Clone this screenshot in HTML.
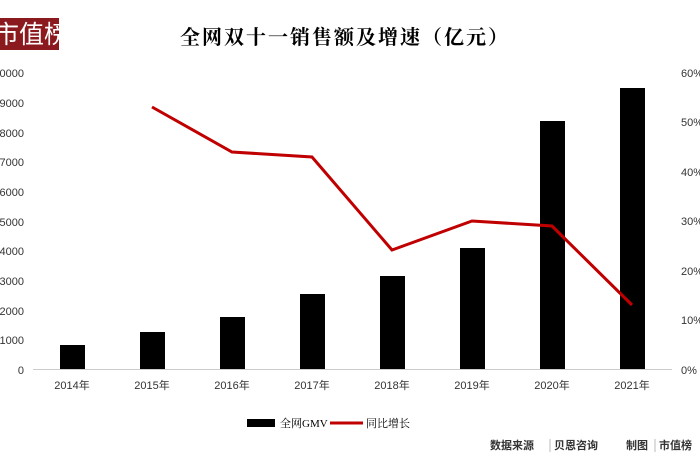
<!DOCTYPE html><html><head><meta charset="utf-8"><style>
body{margin:0;background:#fff;}
svg text{font-family:"Liberation Sans","Noto Sans CJK SC",sans-serif;}
</style></head><body>
<svg width="700" height="470" xmlns="http://www.w3.org/2000/svg">
<rect x="0" y="18" width="59" height="32" fill="#8b1a1e"/>
<text x="-6" y="43" font-size="25" fill="#fff" style="font-family:'Noto Sans CJK SC',sans-serif">市值榜</text>
<text x="345" y="44" font-size="20" font-weight="bold" text-anchor="middle" letter-spacing="2" style="font-family:'Noto Serif CJK SC',serif">全网双十一销售额及增速（亿元）</text>
<g font-size="11" fill="#333" text-anchor="end">
<text x="24" y="374">0</text><text x="24" y="344">1000</text><text x="24" y="315">2000</text><text x="24" y="285">3000</text><text x="24" y="255">4000</text><text x="24" y="226">5000</text><text x="24" y="196">6000</text><text x="24" y="166">7000</text><text x="24" y="137">8000</text><text x="24" y="107">9000</text><text x="24" y="77">10000</text>
</g>
<g font-size="11" fill="#333" text-anchor="start">
<text x="681" y="374">0%</text><text x="681" y="324">10%</text><text x="681" y="275">20%</text><text x="681" y="225">30%</text><text x="681" y="176">40%</text><text x="681" y="126">50%</text><text x="681" y="77">60%</text>
</g>
<line x1="33" y1="369.5" x2="672" y2="369.5" stroke="#ccc" stroke-width="1"/>
<g fill="#000">
<rect x="60" y="345" width="25" height="24"/>
<rect x="140" y="332" width="25" height="37"/>
<rect x="220" y="317" width="25" height="52"/>
<rect x="300" y="294" width="25" height="75"/>
<rect x="380" y="276" width="25" height="93"/>
<rect x="460" y="248" width="25" height="121"/>
<rect x="540" y="121" width="25" height="248"/>
<rect x="620" y="88" width="25" height="281"/>
</g>
<polyline points="152,107 232,152 312,157 392,250 472,221 552,226 632,305" fill="none" stroke="#c00000" stroke-width="3"/>
<g font-size="11" fill="#333" text-anchor="middle" style="font-family:'Liberation Serif','Noto Serif CJK SC',serif">
<text x="72" y="389">2014年</text><text x="152" y="389">2015年</text><text x="232" y="389">2016年</text><text x="312" y="389">2017年</text><text x="392" y="389">2018年</text><text x="472" y="389">2019年</text><text x="552" y="389">2020年</text><text x="632" y="389">2021年</text>
</g>
<rect x="247" y="419" width="28" height="8" fill="#000"/>
<text x="280" y="427" font-size="11" style="font-family:'Liberation Serif','Noto Serif CJK SC',serif">全网GMV</text>
<line x1="330" y1="423" x2="363" y2="423" stroke="#c00000" stroke-width="3"/>
<text x="366" y="427" font-size="11" style="font-family:'Liberation Serif','Noto Serif CJK SC',serif">同比增长</text>
<text x="490" y="449" font-size="11" font-weight="bold" fill="#333">数据来源</text>
<line x1="550" y1="439" x2="550" y2="452" stroke="#bbb"/>
<text x="554" y="449" font-size="11" font-weight="bold" fill="#333">贝恩咨询</text>
<text x="626" y="449" font-size="11" font-weight="bold" fill="#333">制图</text>
<line x1="655" y1="439" x2="655" y2="452" stroke="#bbb"/>
<text x="659" y="449" font-size="11" font-weight="bold" fill="#333">市值榜</text>
</svg>
</body></html>
